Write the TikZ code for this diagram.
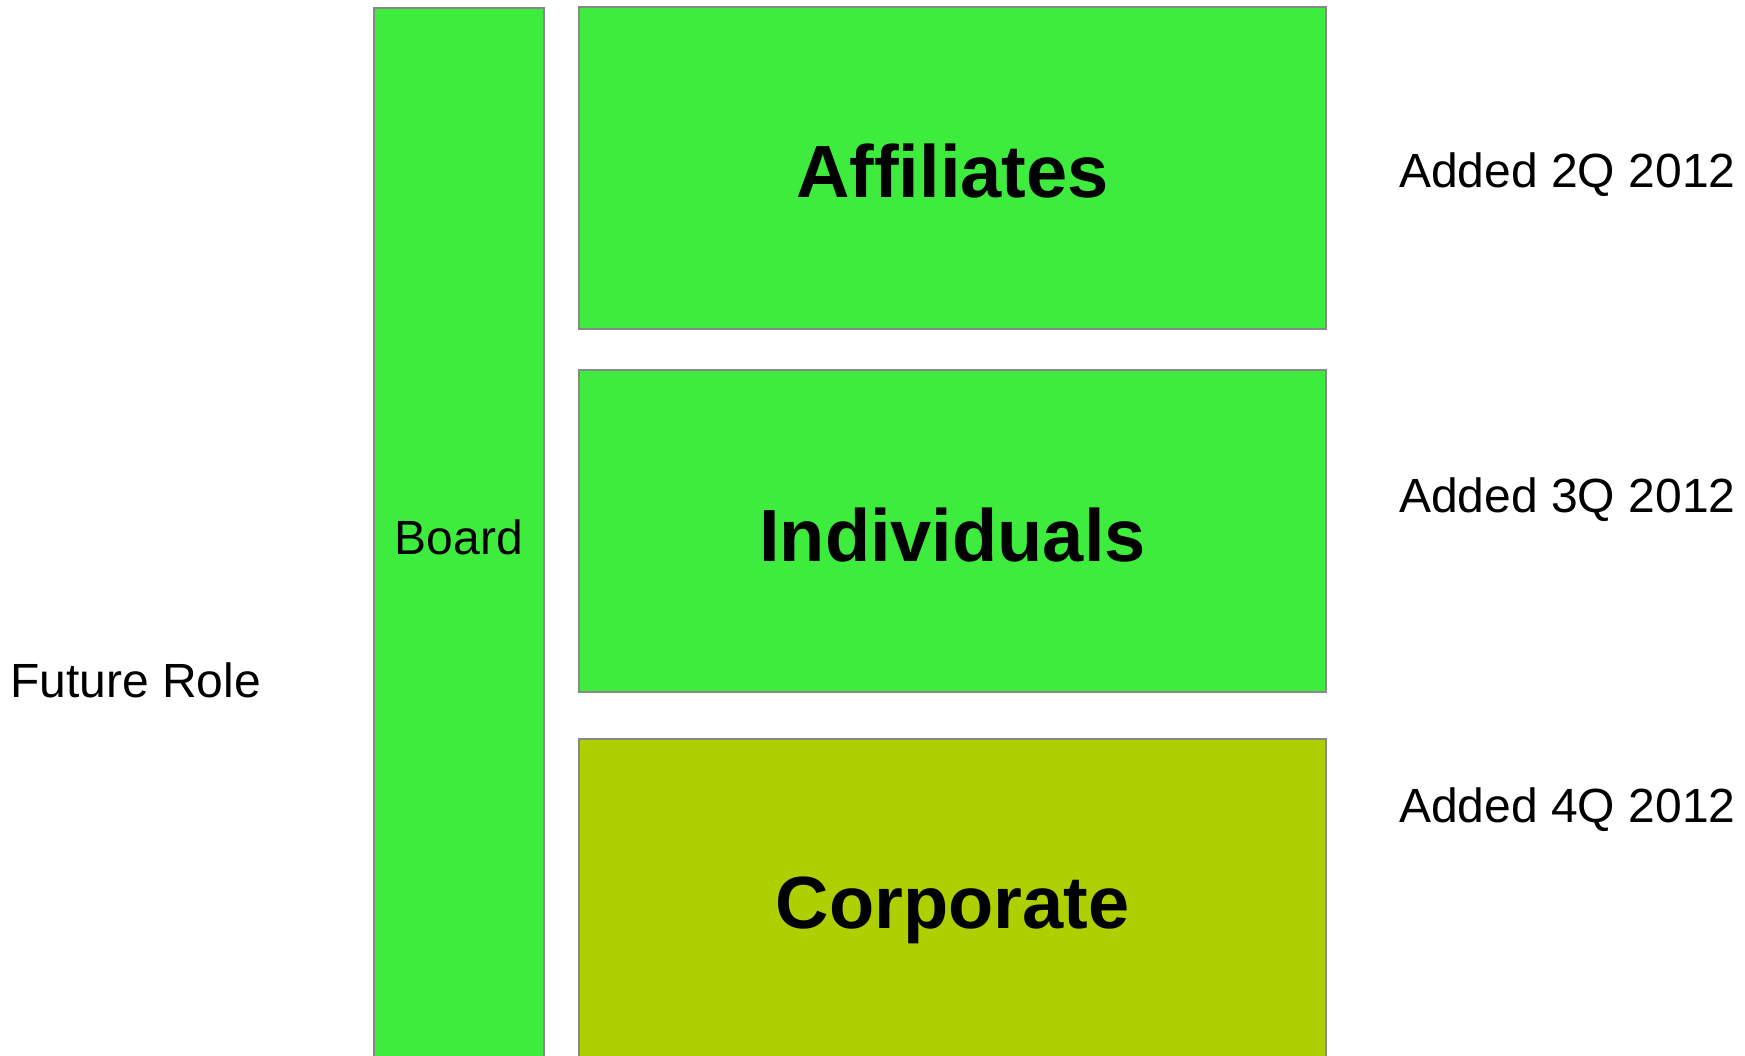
\documentclass[tikz,border=0pt]{standalone}
\usepackage{fontspec}
\setmainfont{Liberation Sans}
\usetikzlibrary{positioning}
\definecolor{groupgreen}{HTML}{3EEC3E}
\definecolor{corpgreen}{HTML}{AFD000}
\definecolor{edgegray}{HTML}{888888}
\tikzstyle{group} = [rectangle, minimum width=747pt, minimum height=322pt, draw=edgegray, line width=2pt, fill=groupgreen]
\tikzstyle{grouplabel} = [inner sep=0pt, text centered, font=\fontsize{74}{80}\selectfont\bfseries]
\tikzstyle{board} = [rectangle, minimum width=170pt, minimum height=1058pt, text centered, draw=edgegray, line width=2pt, fill=groupgreen, font=\fontsize{48}{54}\selectfont]
\tikzstyle{note} = [inner sep=0pt, font=\fontsize{48}{54}\selectfont]

\begin{document}
\begin{tikzpicture}[x=1pt, y=-1pt]

\useasboundingbox (0,0) rectangle (1745,1056);

\node (B) [board] at (459,537) {Board};

\node (A) [group] at (952.5,168) {};
\node (AL) [grouplabel] at ([yshift=-3.5pt]A.center) {Affiliates};

\node (I) [group] at (952.5,531) {};
\node (IL) [grouplabel] at ([yshift=-4.5pt]I.center) {Individuals};

\node (C) [group, fill=corpgreen] at (952.5,900) {};
\node (CL) [grouplabel] at ([yshift=-10pt]C.center) {Corporate};

\node (F) [note] at (135.5,680) {Future Role};

\node (NA) [note, anchor=west] at (1399,174.5) {Added 2Q 2012};

\node (NI) [note, anchor=west] at (1399,499.5) {Added 3Q 2012};

\node (NC) [note, anchor=west] at (1399,809.5) {Added 4Q 2012};

\end{tikzpicture}
\end{document}
